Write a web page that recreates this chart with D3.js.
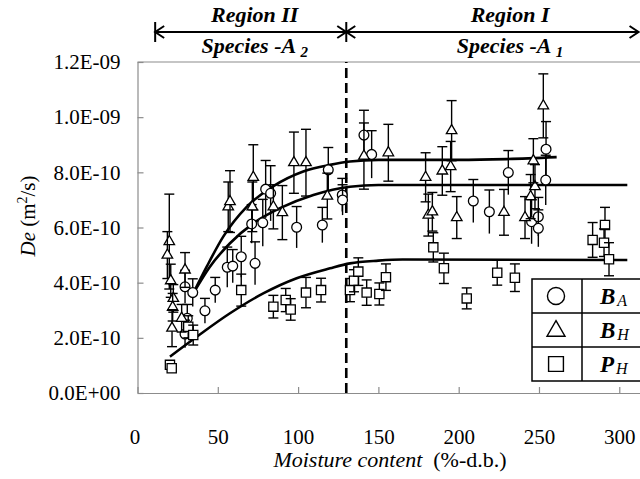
<!DOCTYPE html>
<html lang="en">
<head>
<meta charset="UTF-8">
<title>De vs moisture content</title>
<script src="https://d3js.org/d3.v7.min.js"></script>
<style>
    body {margin:0; background:#fff;}
    text {font-family:"Liberation Serif","Times New Roman",serif; fill:#000;}
</style>
</head>
<body>
<svg id="main" width="640" height="479"></svg>
<script>
// De values are in units of 1E-10 m2/s : [moisture content, De, error]
let pointsBA = [
    [29.6,3.85,0.6],[34.4,3.64,0.5],[42.0,2.98,0.45],[48.4,3.73,0.46],[31.0,2.71,0.5],
    [29.6,2.14,0.5],[55.9,4.56,0.73],[59.3,4.60,0.6],[64.6,4.94,0.74],[73.2,4.70,0.78],
    [71.1,6.13,0.7],[78.0,6.17,0.85],[79.8,7.39,1.04],[82.9,7.24,1.0],[99.1,6.01,0.75],
    [115.1,6.09,0.64],[118.8,8.09,0.81],[127.5,7.18,0.6],[127.7,7.00,0.55],
    [141.0,9.35,0.9],[145.8,8.65,0.86],[209.1,6.96,0.78],[219.1,6.57,0.79],[230.9,7.99,0.8],
    [254.4,8.84,1.0],[254.2,7.72,0.9],[245.4,6.21,0.8],[249.6,6.39,0.7],[249.6,5.97,0.67]
];
let pointsBH = [
    [19.8,5.49,1.72],[18.6,5.00,0.85],[20.7,4.07,0.6],[22.3,3.43,0.5],[21.9,3.11,0.5],
    [21.5,2.35,0.67],[27.5,2.71,0.5],[29.6,4.46,0.63],[56.5,6.75,0.9],[57.6,6.94,1.12],
    [72.1,7.82,1.18],[71.5,6.75,0.9],[84.6,6.75,0.8],[90.2,6.54,0.98],[97.4,8.35,1.11],
    [104.9,8.35,1.21],[118.2,7.14,0.83],
    [141.0,8.59,1.2],[156.2,8.71,1.03],[179.4,7.82,0.89],[189.8,8.05,0.88],[181.1,6.45,0.76],
    [183.6,6.57,0.7],[195.6,9.51,1.09],[195.0,8.21,0.91],[198.8,6.36,0.76],[228.2,6.55,0.83],
    [241.3,6.36,0.76],[244.8,7.12,0.8],[247.5,7.48,0.8],[246.5,8.42,0.8],[252.7,10.41,1.16]
];
let pointsPH = [
    [20.2,1.02,0],[21.3,0.90,0],[31.6,2.40,0.4],[34.7,2.10,0.36],[64.6,3.73,0.58],
    [84.6,3.13,0.41],[92.3,3.37,0.42],[95.4,3.03,0.39],[104.9,3.64,0.55],[114.3,3.73,0.43],
    [132.3,3.73,0.42],[134.8,4.07,0.4],[137.5,4.40,0.5],[142.7,3.64,0.46],[150.6,3.59,0.4],
    [154.7,4.20,0.48],[184.2,5.28,0.53],[190.8,4.52,0.55],[205.0,3.43,0.38],[224.0,4.36,0.45],
    [235.0,4.18,0.5],[283.4,5.55,0.63],[291.1,6.09,0.64],[290.5,5.45,0.5],[293.6,4.85,0.6]
];

// fitted curves
let fitUpper = [[34.7,3.61],[43.1,4.58],[53.4,5.67],[68.0,6.75],[84.1,7.48],[103.2,8.03],
    [119.9,8.27],[132.3,8.39],[150,8.45],[200,8.45],[230,8.48],[261,8.55]];
let fitMiddle = [[34.7,3.61],[45.1,4.58],[57.6,5.43],[72.1,6.15],[88.7,6.70],[109.5,7.18],
    [132.3,7.48],[150,7.54],[305,7.54]];
let fitLower = [[20.2,1.32],[36.9,2.04],[57.6,2.89],[78.3,3.61],[99.1,4.16],[119.9,4.52],
    [132.3,4.70],[150,4.80],[165,4.84],[305,4.82]];

let xTicks = [0,50,100,150,200,250,300];
let yTicks = [0,2,4,6,8,10,12];
let yTickLabels = ["0.0E+00","2.0E-10","4.0E-10","6.0E-10","8.0E-10","1.0E-09","1.2E-09"];
let regionEdges = [11,130,312];   // arrows at the top
let regionBoundary = 130;         // dashed line
let legendNames = [["B","A"],["B","H"],["P","H"]];

let svg = d3.select('svg#main');
let x = d3.scaleLinear().domain([0,320]).range([137.5,651.4]);
let y = d3.scaleLinear().domain([0,12]).range([393,62]);

// plot frame (top edge) and axes
svg.append('line')
    .attr('x1',x(0)).attr('x2',640).attr('y1',y(12)).attr('y2',y(12))
    .style('stroke','#8c8c8c').style('stroke-width',1.2);

let xAxis = svg.append('g')
    .attr('transform','translate(0,'+y(0)+')')
    .call(d3.axisBottom(x).tickValues(xTicks).tickSizeInner(-6).tickSizeOuter(0).tickPadding(36));
let yAxis = svg.append('g')
    .attr('transform','translate('+x(0)+',0)')
    .call(d3.axisLeft(y).tickValues(yTicks).tickSizeInner(-6).tickSizeOuter(0).tickPadding(17)
        .tickFormat(function(d,i){return yTickLabels[i]}));
svg.selectAll('.domain, .tick line').style('stroke','#8c8c8c').style('stroke-width',1.2);
xAxis.selectAll('.tick text').style('font-size','21px');
yAxis.selectAll('.tick text').style('font-size','21px');
xAxis.select('.tick text').attr('dx','-3');

// dashed region boundary
svg.append('line')
    .attr('x1',x(regionBoundary)).attr('x2',x(regionBoundary))
    .attr('y1',y(0)).attr('y2',y(12))
    .style('stroke','#000').style('stroke-width',2.6).style('stroke-dasharray','10,5');

// fitted lines
let line = d3.line().x(function(d){return x(d[0])}).y(function(d){return y(d[1])})
    .curve(d3.curveMonotoneX);
[fitUpper, fitMiddle, fitLower].forEach(function(f){
    svg.append('path').attr('d',line(f))
        .style('fill','none').style('stroke','#000').style('stroke-width',2.6);
});

// data with error bars
let series = [
    {data:pointsBA, shape:d3.symbolCircle, size:75, bottomCap:false},
    {data:pointsBH, shape:d3.symbolTriangle, size:48, bottomCap:true},
    {data:pointsPH, shape:d3.symbolSquare, size:85, bottomCap:true}
];
series.forEach(function(s){
    let g = svg.append('g');
    let pts = g.selectAll('g.pt').data(s.data).enter().append('g').attr('class','pt');
    pts.filter(function(d){return d[2]>0}).append('line')
        .attr('x1',function(d){return x(d[0])}).attr('x2',function(d){return x(d[0])})
        .attr('y1',function(d){return y(d[1]-d[2])}).attr('y2',function(d){return y(d[1]+d[2])})
        .style('stroke','#000').style('stroke-width',1.4);
    pts.filter(function(d){return d[2]>0}).append('line')
        .attr('x1',function(d){return x(d[0])-5}).attr('x2',function(d){return x(d[0])+5})
        .attr('y1',function(d){return y(d[1]+d[2])}).attr('y2',function(d){return y(d[1]+d[2])})
        .style('stroke','#000').style('stroke-width',1.4);
    if (s.bottomCap) {
        pts.filter(function(d){return d[2]>0}).append('line')
            .attr('x1',function(d){return x(d[0])-5}).attr('x2',function(d){return x(d[0])+5})
            .attr('y1',function(d){return y(d[1]-d[2])}).attr('y2',function(d){return y(d[1]-d[2])})
            .style('stroke','#000').style('stroke-width',1.4);
    }
    pts.append('path')
        .attr('d',d3.symbol().type(s.shape).size(s.size))
        .attr('transform',function(d){return 'translate('+x(d[0])+','+y(d[1])+')'})
        .style('fill','#fff').style('stroke','#000').style('stroke-width',1.3);
});

// region arrows
let arrowY = 32;
svg.append('line')
    .attr('x1',x(regionEdges[0])).attr('x2',x(regionEdges[2]))
    .attr('y1',arrowY).attr('y2',arrowY)
    .style('stroke','#000').style('stroke-width',2);
[regionEdges[0],regionEdges[1]].forEach(function(e){
    svg.append('line').attr('x1',x(e)).attr('x2',x(e)).attr('y1',arrowY-10).attr('y2',arrowY+10)
        .style('stroke','#000').style('stroke-width',2);
});
let heads = [[regionEdges[0],-1],[regionEdges[1],1],[regionEdges[1],-1],[regionEdges[2],1]];
heads.forEach(function(h){
    let px = x(h[0]);
    svg.append('path')
        .attr('d','M'+(px-h[1]*9)+','+(arrowY-6)+'L'+px+','+arrowY+'L'+(px-h[1]*9)+','+(arrowY+6))
        .style('fill','none').style('stroke','#000').style('stroke-width',2);
});
let regionLabels = [{at:73, name:"Region II", sub:"2"},{at:232, name:"Region I", sub:"1"}];
regionLabels.forEach(function(r){
    svg.append('text').attr('x',x(r.at)).attr('y',22).attr('text-anchor','middle')
        .style('font-size','22px').style('font-weight','bold').style('font-style','italic')
        .text(r.name);
    let t = svg.append('text').attr('x',x(r.at)).attr('y',53).attr('text-anchor','middle')
        .style('font-size','22px').style('font-weight','bold').style('font-style','italic');
    t.append('tspan').text('Species -A ');
    t.append('tspan').attr('dy',4).style('font-size','15px').text(r.sub);
});

// legend
let lg = svg.append('g').attr('transform','translate(532,279)');
lg.append('rect').attr('width',130).attr('height',102)
    .style('fill','#fff').style('stroke','#000').style('stroke-width',1.5);
lg.append('line').attr('x1',50).attr('x2',50).attr('y1',0).attr('y2',102)
    .style('stroke','#000').style('stroke-width',1.5);
[34,68].forEach(function(r){
    lg.append('line').attr('x1',0).attr('x2',130).attr('y1',r).attr('y2',r)
        .style('stroke','#000').style('stroke-width',1.5);
});
let legendShapes = [[d3.symbolCircle,230],[d3.symbolTriangle,140],[d3.symbolSquare,220]];
legendNames.forEach(function(n,i){
    let cy = 17+i*34;
    lg.append('path').attr('d',d3.symbol().type(legendShapes[i][0]).size(legendShapes[i][1]))
        .attr('transform','translate(24,'+(cy+(i===1?1:0))+')')
        .style('fill','#fff').style('stroke','#000').style('stroke-width',1.4);
    let t = lg.append('text').attr('x',68).attr('y',cy+8)
        .style('font-size','23px').style('font-weight','bold').style('font-style','italic');
    t.append('tspan').text(n[0]);
    t.append('tspan').attr('dx',2).attr('dy',2).style('font-size','16px').style('font-weight','normal').text(n[1]);
});

// axis titles
let yt = svg.append('text').attr('transform','translate(35,216) rotate(-90)')
    .attr('text-anchor','middle').style('font-size','21px');
yt.append('tspan').style('font-style','italic').text('De');
yt.append('tspan').text(' (m');
yt.append('tspan').attr('dy',-8).style('font-size','14px').text('2');
yt.append('tspan').attr('dy',8).text('/s)');

let xt = svg.append('text').attr('x',390).attr('y',467)
    .attr('text-anchor','middle').style('font-size','22px');
xt.append('tspan').style('font-style','italic').text('Moisture content');
xt.append('tspan').text('\u00a0 (%-d.b.)');
</script>
</body>
</html>
